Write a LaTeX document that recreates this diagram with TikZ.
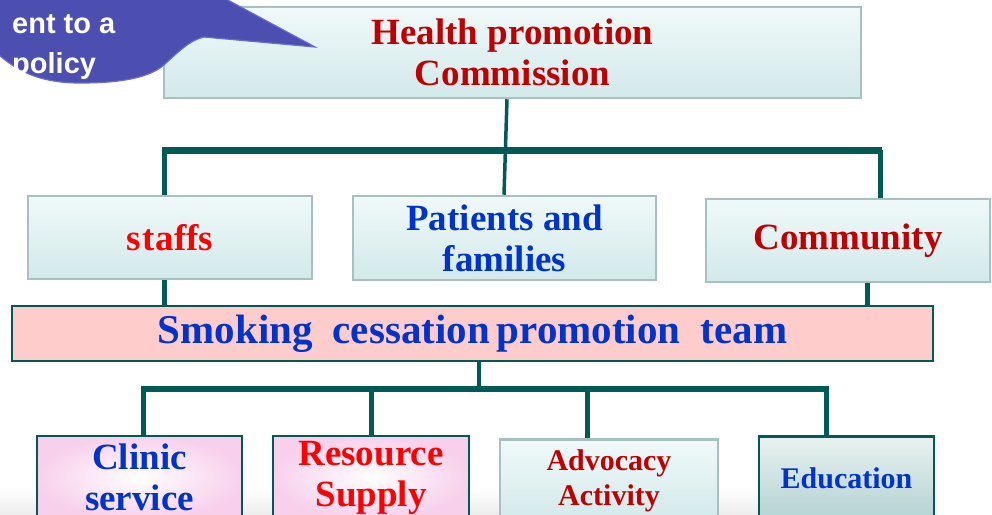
\documentclass[tikz,border=0pt]{standalone}
\usepackage{fontspec}
\setmainfont{Liberation Serif}
\newfontfamily\calloutfont{Liberation Sans}
\definecolor{conncol}{RGB}{0,90,85}
\definecolor{boxline}{RGB}{168,192,192}
\definecolor{cyantop}{RGB}{240,249,249}
\definecolor{cyanbot}{RGB}{210,233,234}
\definecolor{dred}{RGB}{192,0,0}
\definecolor{bred}{RGB}{255,0,0}
\definecolor{dblue}{RGB}{0,51,204}
\definecolor{teampink}{RGB}{255,204,204}
\definecolor{softpink}{RGB}{248,208,236}
\definecolor{edutop}{RGB}{232,242,240}
\definecolor{edubot}{RGB}{180,210,210}
\definecolor{bubble}{RGB}{76,78,176}
\definecolor{bubbleline}{RGB}{104,106,214}
\begin{document}
\begin{tikzpicture}[x=1pt,y=-1pt,
  lightbox/.style={draw=boxline, line width=2.5pt, top color=cyantop, bottom color=cyanbot, inner sep=0pt, align=center},
  darkbox/.style={draw=conncol, line width=2.5pt, inner sep=0pt, align=center},
  pinkbox/.style={darkbox, inner color=white, outer color=softpink},
  big/.style={font=\fontsize{37}{41}\selectfont\bfseries},
  small/.style={font=\fontsize{30}{35}\selectfont\bfseries},
  conn/.style={draw=conncol, line width=5pt},
  thinconn/.style={draw=conncol, line width=3.5pt},
  bar/.style={draw=conncol, line width=7pt}]
\clip (0,0) rectangle (992,514);
\useasboundingbox (0,0) rectangle (992,514);
\fill[white] (0,0) rectangle (992,514);
% faint floor shadow
\shade[top color=white, bottom color=black!7] (0,488) rectangle (760,514);

% top box
\node[lightbox, big, text=dred, minimum width=697pt, minimum height=91pt] (hpc) at (512.5,52.5) {Health promotion\\Commission};

% middle row
\node[lightbox, big, text=bred, minimum width=284pt, minimum height=83pt] (staffs) at (170,237.5) {s\kern1pt t\kern1pt affs};
\node[lightbox, big, text=dblue, minimum width=303pt, minimum height=84pt] (patients) at (504.5,238) {Patients and\\families};
\node[lightbox, big, text=dred, minimum width=284pt, minimum height=83pt] (community) at (848,240.5) {\raisebox{-3pt}{Community}};

% team
\node[darkbox, fill=teampink, text=dblue, font=\fontsize{41}{45}\selectfont\bfseries, minimum width=921pt, minimum height=55pt] (team) at (472.5,333.5) {\raisebox{-3pt}{Smoking\hspace{20pt}cessation\hspace{7pt}promotion\hspace{20pt}team}};

% bottom row
\node[pinkbox, big, text=dblue, minimum width=205pt, minimum height=83pt] (clinic) at (139.5,477.5) {Clinic\\service};
\node[pinkbox, big, text=bred, minimum width=196pt, minimum height=83pt] (resource) at (371,477.5) {Resource\\Supply};
\node[lightbox, small, text=dred, minimum width=218pt, minimum height=83pt] (advocacy) at (609,481) {Advocacy\\Activity};
\node[darkbox, small, text=dblue, top color=edutop, bottom color=edubot, minimum width=175pt, minimum height=83pt] (education) at (846.5,478) {Education};

% upper connectors
\coordinate (tl) at (162,150);
\coordinate (tr) at (882,150);
\draw[thinconn] ([xshift=-5.5pt]hpc.south) -- ([xshift=-0.5pt]patients.north);
\draw[bar] (tl) -- (tr);
\draw[conn] (tl -| 164,0) -- (staffs.north -| 164,0);
\draw[conn] (tr -| 880,0) -- (community.north -| 880,0);

% middle connectors
\draw[conn] (staffs.south -| 164,0) -- (team.north -| 164,0);
\draw[conn] (community.south -| 867,0) -- (team.north -| 867,0);

% lower connectors
\coordinate (bl) at (143,389);
\coordinate (br) at (826,389);
\draw[thinconn] (team.south -| 479,0) -- (bl -| 479,0);
\draw[line width=6pt, draw=conncol] ([xshift=-2.5pt]bl) -- ([xshift=2.5pt]br);
\draw[conn] (bl) -- (clinic.north -| bl);
\draw[conn] (bl -| 371,0) -- (resource.north);
\draw[conn] (bl -| 587,0) -- (advocacy.north -| 587,0);
\draw[conn] (br) -- (education.north -| br);

% callout
\path[fill=bubble, draw=bubbleline, line width=1.2pt]
  (-2,54) .. controls (20,74) and (45,83) .. (80,83)
  .. controls (120,83) and (150,78) .. (165,64)
  .. controls (178,52) and (190,40) .. (204,37)
  -- (315,47) -- (224,-2) -- (-2,-2) -- cycle;
\node[anchor=base west, inner sep=0pt, text=white, font=\calloutfont\fontsize{29}{34}\selectfont\bfseries] (c1) at (12,33) {ent to a};
\node[anchor=base west, inner sep=0pt, text=white, font=\calloutfont\fontsize{29}{34}\selectfont\bfseries] (c2) at (12,73) {policy};
\end{tikzpicture}
\end{document}
